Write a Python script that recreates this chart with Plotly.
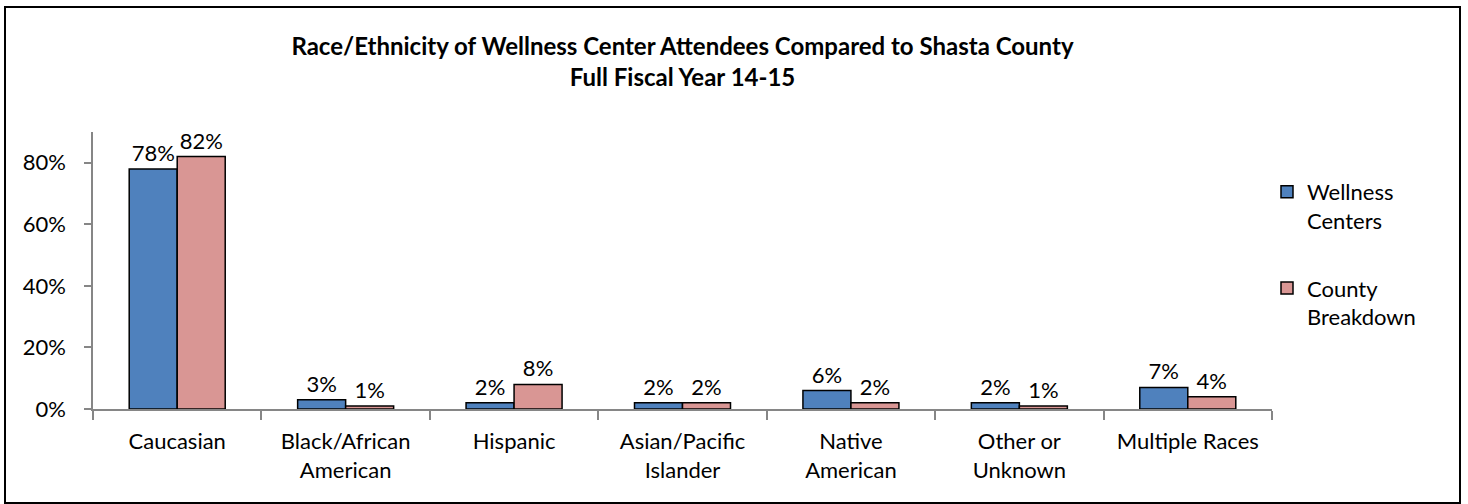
import plotly.graph_objects as go

categories = ["Caucasian", "Black/African<br>American", "Hispanic", "Asian/Pacific<br>Islander",
              "Native<br>American", "Other or<br>Unknown", "Multiple Races"]
wellness = [0.78, 0.03, 0.02, 0.02, 0.06, 0.02, 0.07]
county = [0.82, 0.01, 0.08, 0.02, 0.02, 0.01, 0.04]
y_ticks = [0, 0.2, 0.4, 0.6, 0.8]

FONT = "Lato"
FS = 22
fig = go.Figure()
fig.add_trace(go.Bar(x=categories, y=wellness, name="Wellness<br>Centers", legendgroup="w",
                     marker=dict(color="#4F81BD", line=dict(color="black", width=1.5)),
                     texttemplate="%{y:.0%}", textposition="outside",
                     textfont=dict(size=FS, color="black", family=FONT), cliponaxis=False))
fig.add_trace(go.Bar(x=categories, y=county, name="County<br>Breakdown", legendgroup="c",
                     marker=dict(color="#D99694", line=dict(color="black", width=1.5)),
                     texttemplate="%{y:.0%}", textposition="outside",
                     textfont=dict(size=FS, color="black", family=FONT), cliponaxis=False))

W, H = 1468, 504
L, R, T, B = 93, 1272, 132, 409
fig.update_layout(
    width=W, height=H,
    margin=dict(l=L, r=W - R, t=T, b=H - B),
    paper_bgcolor="white", plot_bgcolor="white",
    font=dict(family=FONT, size=FS, color="black"),
    title=dict(text="<b>Race/Ethnicity of Wellness Center Attendees Compared to Shasta County<br>Full Fiscal Year 14-15</b>",
               x=(L + R) / 2 / W, xanchor="center", y=1 - 55 / H, yanchor="top",
               font=dict(size=24, family=FONT)),
    barmode="group", bargap=0.43, bargroupgap=0,
    showlegend=True,
    legend=dict(x=(1267 - L) / (R - L), xanchor="left", y=(B - 171) / (B - T), yanchor="top",
                valign="top", traceorder="grouped",
                font=dict(size=FS), tracegroupgap=36, itemwidth=30,
                bgcolor="rgba(0,0,0,0)"),
)
fig.update_xaxes(showline=True, linecolor="#868686", linewidth=1.5, ticks="outside",
                 tickson="boundaries", ticklen=9, tickcolor="#868686", tickwidth=1.5,
                 showgrid=False, tickfont=dict(size=FS), ticklabelstandoff=12)
fig.update_yaxes(range=[0, 0.9], tickvals=y_ticks, tickformat=".0%", showline=True,
                 linecolor="#868686", linewidth=1.5, ticks="outside", ticklen=7,
                 tickcolor="#868686", tickwidth=1.5, showgrid=False, zeroline=False,
                 tickfont=dict(size=FS), ticklabelstandoff=14)

# outer frame
fig.add_shape(type="rect", xref="paper", yref="paper",
              x0=(5 - L) / (R - L), x1=(1460 - L) / (R - L),
              y0=(B - 503) / (B - T), y1=(B - 7) / (B - T),
              line=dict(color="black", width=2), layer="below")

fig.write_html("out.html", config={"displayModeBar": False},
               post_script="document.body.style.margin='0';")
